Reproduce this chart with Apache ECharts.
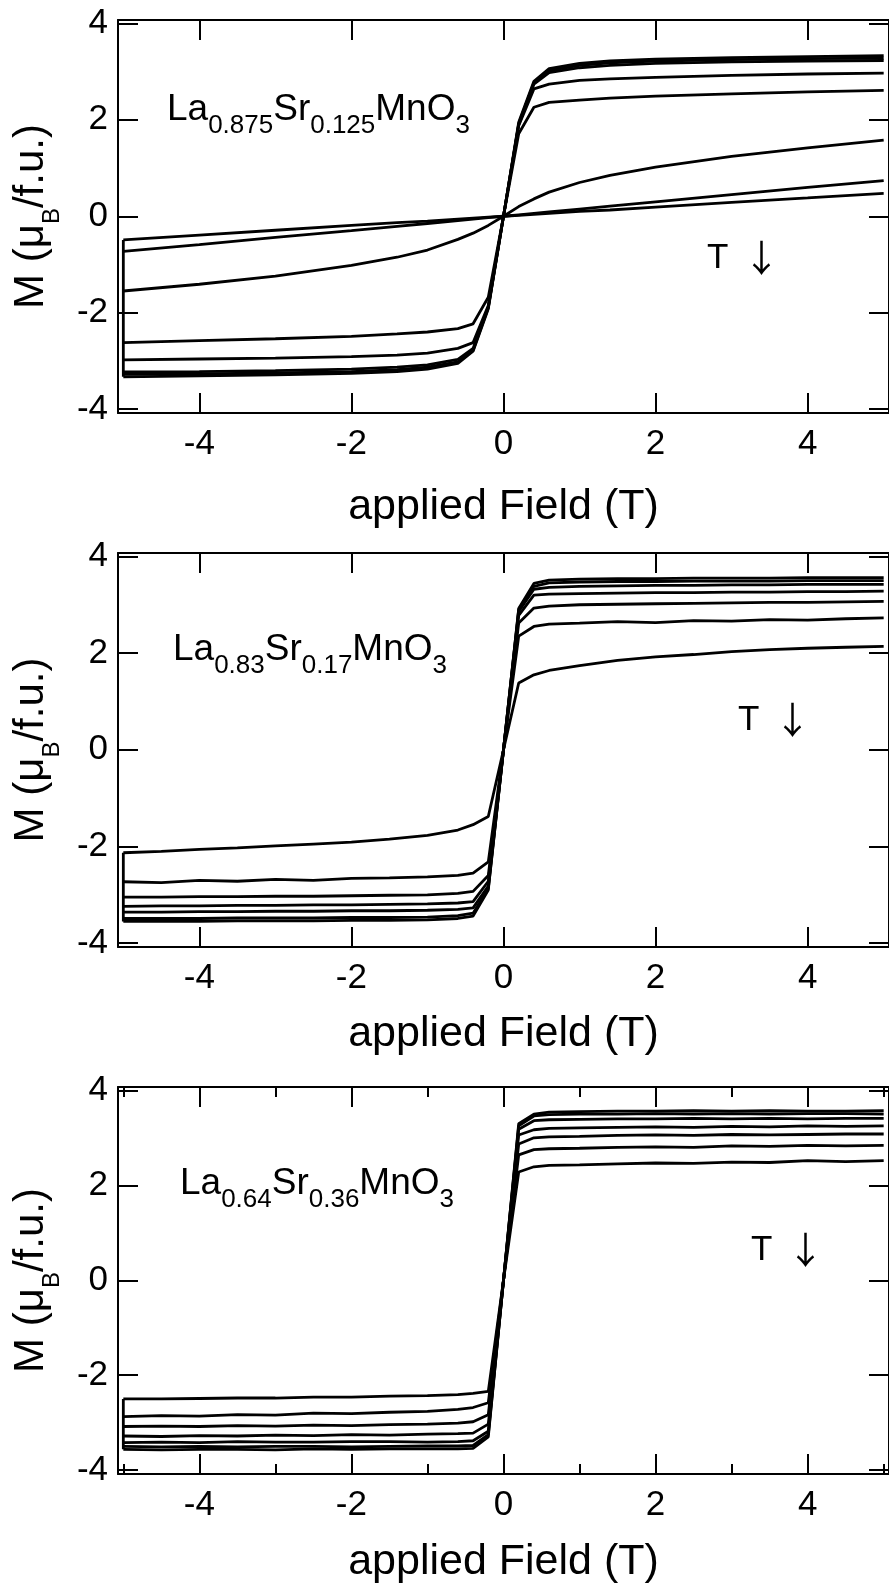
<!DOCTYPE html>
<html><head><meta charset="utf-8">
<script src="https://cdn.jsdelivr.net/npm/echarts@6/dist/echarts.min.js"></script>
<style>html,body{margin:0;padding:0;background:#fff}#c{width:889px;height:1585px}</style>
</head><body><div id="c"></div>
<script>
// ---------- data ----------
const FIELD_125 = [-5,-4,-3,-2,-1.4,-1,-0.6,-0.4,-0.2,0,0.2,0.4,0.6,1,1.4,2,3,4,5];
const M125_1 = [-3.33,-3.31,-3.29,-3.26,-3.22,-3.17,-3.05,-2.8,-1.92,0,1.95,2.8,3.06,3.17,3.22,3.26,3.29,3.31,3.33];
const M125_2 = [-3.28,-3.27,-3.25,-3.22,-3.18,-3.13,-3.02,-2.78,-1.9,0,1.92,2.77,3.02,3.13,3.18,3.22,3.25,3.27,3.28];
const M125_3 = [-3.23,-3.22,-3.2,-3.17,-3.13,-3.08,-2.97,-2.74,-1.88,0,1.9,2.74,2.98,3.08,3.13,3.17,3.2,3.22,3.23];
const M125_4 = [-2.98,-2.96,-2.94,-2.91,-2.88,-2.84,-2.74,-2.62,-1.85,0,1.88,2.64,2.74,2.82,2.85,2.88,2.92,2.95,2.97];
const M125_5 = [-2.62,-2.58,-2.54,-2.49,-2.44,-2.4,-2.33,-2.23,-1.68,0,1.71,2.26,2.36,2.41,2.45,2.49,2.54,2.58,2.61];
const M125_6 = [-1.55,-1.41,-1.24,-1.02,-0.85,-0.7,-0.48,-0.35,-0.19,0,0.2,0.36,0.5,0.7,0.85,1.02,1.24,1.42,1.58];
const M125_7 = [-0.73,-0.59,-0.44,-0.3,-0.21,-0.15,-0.09,-0.06,-0.03,0,0.03,0.06,0.09,0.15,0.21,0.3,0.45,0.6,0.74];
const M125_8 = [-0.49,-0.39,-0.29,-0.19,-0.13,-0.1,-0.06,-0.04,-0.02,0,0.02,0.04,0.06,0.1,0.13,0.19,0.29,0.38,0.475];

const FIELD_17 = [-5,-4.5,-4,-3.5,-3,-2.5,-2,-1.5,-1,-0.6,-0.4,-0.2,0,0.2,0.4,0.6,1,1.5,2,2.5,3,3.5,4,4.5,5];
const M17_1 = [-3.55,-3.55,-3.55,-3.54,-3.54,-3.54,-3.53,-3.53,-3.52,-3.49,-3.44,-2.9,0,2.92,3.44,3.51,3.53,3.54,3.54,3.55,3.55,3.55,3.56,3.56,3.56];
const M17_2 = [-3.49,-3.49,-3.49,-3.48,-3.48,-3.48,-3.47,-3.47,-3.46,-3.43,-3.38,-2.87,0,2.9,3.38,3.45,3.47,3.48,3.48,3.49,3.49,3.49,3.5,3.5,3.5];
const M17_3 = [-3.36,-3.36,-3.35,-3.35,-3.34,-3.34,-3.33,-3.33,-3.32,-3.3,-3.27,-2.82,0,2.86,3.32,3.36,3.38,3.39,3.4,3.4,3.41,3.41,3.42,3.42,3.42];
const M17_4 = [-3.24,-3.23,-3.23,-3.22,-3.22,-3.21,-3.21,-3.2,-3.19,-3.17,-3.14,-2.72,0,2.78,3.2,3.22,3.23,3.24,3.25,3.25,3.26,3.26,3.27,3.27,3.28];
const M17_5 = [-3.05,-3.05,-3.04,-3.04,-3.03,-3.03,-3.02,-3.01,-3.0,-2.97,-2.93,-2.6,0,2.62,2.93,2.97,3.0,3.01,3.02,3.03,3.04,3.05,3.05,3.06,3.07];
const M17_6 = [-2.73,-2.75,-2.7,-2.72,-2.68,-2.7,-2.66,-2.65,-2.63,-2.6,-2.55,-2.32,0,2.35,2.55,2.6,2.62,2.65,2.63,2.67,2.66,2.69,2.68,2.71,2.73];
const M17_7 = [-2.13,-2.1,-2.06,-2.03,-1.99,-1.95,-1.91,-1.85,-1.77,-1.66,-1.55,-1.38,0,1.38,1.55,1.64,1.74,1.85,1.92,1.97,2.03,2.07,2.1,2.12,2.14];

const FIELD_36 = [-5,-4.5,-4,-3.5,-3,-2.5,-2,-1.5,-1,-0.6,-0.4,-0.2,0,0.2,0.4,0.6,1,1.5,2,2.5,3,3.5,4,4.5,5];
const M36_1 = [-3.56,-3.57,-3.56,-3.56,-3.57,-3.55,-3.56,-3.55,-3.55,-3.55,-3.54,-3.3,0,3.3,3.5,3.54,3.55,3.56,3.56,3.57,3.56,3.57,3.56,3.56,3.57];
const M36_2 = [-3.5,-3.51,-3.5,-3.51,-3.5,-3.5,-3.51,-3.5,-3.49,-3.49,-3.48,-3.25,0,3.25,3.46,3.49,3.5,3.5,3.51,3.5,3.51,3.5,3.51,3.51,3.5];
const M36_3 = [-3.42,-3.41,-3.42,-3.4,-3.41,-3.41,-3.4,-3.4,-3.41,-3.4,-3.38,-3.18,0,3.18,3.36,3.38,3.39,3.4,3.4,3.41,3.4,3.41,3.4,3.41,3.41];
const M36_4 = [-3.28,-3.29,-3.27,-3.28,-3.26,-3.27,-3.25,-3.26,-3.24,-3.23,-3.22,-3.03,0,3.06,3.17,3.2,3.21,3.22,3.23,3.22,3.24,3.23,3.25,3.24,3.25];
const M36_5 = [-3.08,-3.07,-3.08,-3.06,-3.07,-3.05,-3.06,-3.04,-3.03,-3.01,-2.98,-2.83,0,2.87,3.0,3.02,3.03,3.05,3.06,3.05,3.07,3.06,3.07,3.08,3.08];
const M36_6 = [-2.87,-2.85,-2.86,-2.83,-2.84,-2.8,-2.81,-2.78,-2.76,-2.72,-2.68,-2.58,0,2.64,2.75,2.77,2.78,2.8,2.81,2.8,2.83,2.82,2.84,2.83,2.84];
const M36_7 = [-2.5,-2.5,-2.49,-2.48,-2.48,-2.46,-2.46,-2.44,-2.43,-2.41,-2.38,-2.34,0,2.28,2.39,2.42,2.43,2.45,2.47,2.46,2.49,2.48,2.52,2.5,2.52];

const X_RANGE = [-5.07, 5.07];
const Y_RANGE = [-4.08, 4.07];
const X_TITLE = 'applied Field (T)';
const Y_TITLE = '{m|M (μ}{s|B}{m|/f.u.)}';
const SAMPLES = [
  {la: '0.875', sr: '0.125'},
  {la: '0.83', sr: '0.17'},
  {la: '0.64', sr: '0.36'}
];
const TEMP_NOTE = '{t|T }{a|↓}';

// ---------- layout ----------
const FONT = '"Liberation Sans", Arial, Helvetica, sans-serif';
const ARROW_FONT = '"Noto Sans CJK SC", "DejaVu Sans", sans-serif';
const PANELS = [
  {field: FIELD_125, curves: [M125_1,M125_2,M125_3,M125_4,M125_5,M125_6,M125_7,M125_8], minor: false,
   top: 20, height: 393, nameGap: 73, label: [167, 110], note: [707, 258]},
  {field: FIELD_17, curves: [M17_1,M17_2,M17_3,M17_4,M17_5,M17_6,M17_7], minor: false,
   top: 553, height: 394, nameGap: 66, label: [173, 650], note: [738, 720]},
  {field: FIELD_36, curves: [M36_1,M36_2,M36_3,M36_4,M36_5,M36_6,M36_7], minor: true,
   top: 1087, height: 393, nameGap: 67, label: [180, 1184], note: [751, 1250]}
];

const BLACK = '#000';
const lineStyle = {color: BLACK, width: 2};
const tickFmt = v => (Math.abs(v - Math.round(v)) < 1e-9 && Math.round(v) % 2 === 0) ? String(Math.round(v)) : '';

const grids = [], xAxes = [], yAxes = [], series = [], graphics = [];
PANELS.forEach((p, i) => {
  grids.push({left: 118, top: p.top, width: 777, height: p.height, containLabel: false});
  const base = {
    gridIndex: i, type: 'value', splitLine: {show: false}, minorSplitLine: {show: false},
    axisLine: {show: true, onZero: false, lineStyle},
    axisTick: {show: true, inside: true, length: 20, lineStyle},
  };
  const xBase = Object.assign({}, base, {
    min: X_RANGE[0], max: X_RANGE[1], splitNumber: 5,
    minorTick: {show: p.minor, splitNumber: 2, length: 10, lineStyle}
  });
  xAxes.push(Object.assign({}, xBase, {
    position: 'bottom',
    axisLabel: {show: true, formatter: tickFmt, margin: 14, color: BLACK, fontSize: 35, fontFamily: FONT,
                showMinLabel: false, showMaxLabel: false},
    name: X_TITLE, nameLocation: 'middle', nameGap: p.nameGap,
    nameTextStyle: {color: BLACK, fontSize: 43, fontFamily: FONT}
  }));
  xAxes.push(Object.assign({}, xBase, {position: 'top', axisLabel: {show: false}}));
  const yBase = Object.assign({}, base, {min: Y_RANGE[0], max: Y_RANGE[1], splitNumber: 5});
  yAxes.push(Object.assign({}, yBase, {
    position: 'left',
    axisLabel: {show: true, formatter: tickFmt, margin: 10, color: BLACK, fontSize: 35, fontFamily: FONT,
                showMinLabel: false, showMaxLabel: false},
    name: Y_TITLE, nameLocation: 'middle', nameGap: 54, nameRotate: 90,
    nameTextStyle: {color: BLACK, fontFamily: FONT,
      rich: {m: {fontSize: 42, fontFamily: FONT, color: BLACK},
             s: {fontSize: 24, fontFamily: FONT, color: BLACK, padding: [42, 0, 0, 0]}}}
  }));
  yAxes.push(Object.assign({}, yBase, {position: 'right', axisLabel: {show: false}}));

  p.curves.forEach((c, k) => {
    series.push({
      type: 'line', xAxisIndex: 2 * i, yAxisIndex: 2 * i, name: 'p' + i + 'c' + k,
      data: p.field.map((x, j) => [x, c[j]]),
      symbol: 'none', showSymbol: false, lineStyle: {color: BLACK, width: 2.8},
      animation: false, silent: true
    });
  });
  const firsts = p.curves.map(c => c[0]);
  series.push({
    type: 'line', xAxisIndex: 2 * i, yAxisIndex: 2 * i, name: 'p' + i + 'start',
    data: [[p.field[0], Math.max(...firsts)], [p.field[0], Math.min(...firsts)]],
    symbol: 'none', lineStyle: {color: BLACK, width: 2.8}, animation: false, silent: true
  });

  const s = SAMPLES[i];
  graphics.push({
    type: 'text', x: p.label[0], y: p.label[1], silent: true,
    style: {
      text: '{m|La}{s|' + s.la + '}{m|Sr}{s|' + s.sr + '}{m|MnO}{s|3}',
      align: 'left', verticalAlign: 'middle', fill: BLACK,
      rich: {m: {fontSize: 37, fontFamily: FONT, fill: BLACK},
             s: {fontSize: 26, fontFamily: FONT, fill: BLACK, padding: [32, 0, 0, 0]}}
    }
  });
  graphics.push({
    type: 'text', x: p.note[0], y: p.note[1], silent: true,
    style: {text: TEMP_NOTE, align: 'left', verticalAlign: 'middle', fill: BLACK,
            rich: {t: {fontSize: 35, fontFamily: FONT, fill: BLACK},
                   a: {fontSize: 37, fontFamily: ARROW_FONT, fill: BLACK, padding: [0, 0, 0, 5]}}}
  });
});

const chart = echarts.init(document.getElementById('c'), null, {renderer: 'canvas'});
chart.setOption({
  backgroundColor: '#fff',
  animation: false,
  grid: grids, xAxis: xAxes, yAxis: yAxes, series: series, graphic: graphics
});
</script>
</body></html>
